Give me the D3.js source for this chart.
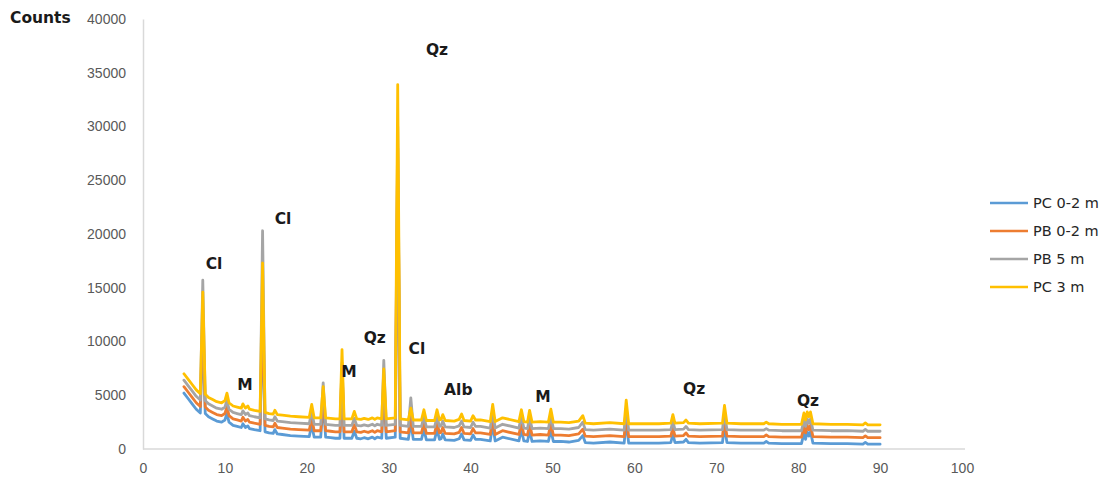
<!DOCTYPE html>
<html>
<head>
<meta charset="utf-8">
<script src="https://cdn.jsdelivr.net/npm/d3@7"></script>
<style>
  html, body { margin: 0; padding: 0; background: #fff; }
  svg { display: block; }
</style>
</head>
<body>
<script>
// Diffraction angle (2θ, degrees) shared by all four patterns
const twoTheta = [
  5.0, 5.5, 6.0, 6.5, 7.0, 7.3, 7.6, 8.0, 8.5, 9.0,
  9.6, 10.0, 10.25, 10.5, 11.0, 11.5, 12.0, 12.2, 12.5, 12.8,
  13.0, 13.6, 14.3, 14.6, 14.9, 15.4, 15.9, 16.1, 16.4, 17.0,
  18.0, 19.0, 20.3, 20.6, 20.9, 21.7, 22.0, 22.3, 22.9, 23.5,
  24.05, 24.3, 24.55, 25.5, 25.8, 26.1, 26.6, 27.0, 27.5, 28.0,
  28.3, 28.6, 29.15, 29.4, 29.7, 30.8, 31.1, 31.4, 32.4, 32.7,
  33.0, 34.0, 34.3, 34.6, 35.6, 35.9, 36.2, 36.4, 36.6, 36.9,
  38.0, 38.6, 38.9, 39.2, 40.0, 40.3, 40.6, 41.2, 42.4, 42.7,
  43.0, 43.9, 45.9, 46.2, 46.5, 46.95, 47.2, 47.5, 48.5, 49.5,
  49.8, 50.1, 51.0, 52.0, 53.2, 53.7, 54.0, 55.0, 57.0, 58.75,
  59.0, 59.3, 61.0, 63.0, 64.45, 64.7, 64.95, 66.0, 66.3, 66.6,
  68.0, 70.75, 71.0, 71.3, 73.0, 75.8, 76.1, 76.4, 78.0, 80.4,
  80.7, 80.9, 81.1, 81.3, 81.5, 81.8, 84.0, 86.0, 87.9, 88.2,
  88.5, 90.0
];

// Counts, PC 0-2 m
const pc02 = [
  5200, 4700, 4200, 3700, 3350, 11000, 3300, 3000, 2800, 2600,
  2500, 2700, 3300, 2500, 2200, 2100, 2000, 2350, 2000, 2150,
  1900, 1800, 1700, 12500, 1600, 1500, 1450, 1800, 1400, 1350,
  1250, 1200, 1150, 2250, 1100, 1100, 4300, 1100, 1050, 1000,
  1000, 6800, 1000, 1000, 1650, 1000, 950, 1050, 950, 1100,
  950, 1100, 1000, 5800, 1000, 1100, 25000, 1000, 900, 2500,
  900, 900, 1800, 850, 850, 1800, 900, 950, 1400, 850,
  800, 950, 1400, 850, 800, 1300, 900, 900, 750, 2250,
  750, 1100, 750, 1800, 750, 700, 1750, 700, 750, 700,
  1800, 700, 700, 650, 800, 1250, 600, 550, 650, 550,
  2600, 550, 550, 550, 600, 1400, 600, 650, 900, 600,
  550, 600, 2100, 600, 550, 550, 700, 550, 500, 500,
  1450, 900, 1600, 1200, 1600, 550, 500, 500, 450, 620,
  450, 450
];

// Counts, PB 0-2 m
const pb02 = [
  5800, 5300, 4800, 4300, 3950, 12500, 3900, 3600, 3400, 3200,
  3100, 3300, 3950, 3100, 2800, 2700, 2600, 2950, 2600, 2750,
  2500, 2400, 2300, 14000, 2200, 2100, 2050, 2400, 2000, 1950,
  1850, 1800, 1750, 2900, 1700, 1700, 5000, 1700, 1650, 1600,
  1600, 7500, 1600, 1600, 2250, 1600, 1550, 1650, 1550, 1700,
  1550, 1700, 1600, 6500, 1600, 1700, 28000, 1600, 1500, 3100,
  1500, 1500, 2400, 1450, 1450, 2400, 1500, 1550, 2000, 1450,
  1400, 1550, 2000, 1450, 1400, 1900, 1500, 1500, 1350, 2850,
  1350, 1700, 1350, 2400, 1350, 1300, 2350, 1300, 1350, 1300,
  2400, 1300, 1300, 1250, 1400, 1850, 1200, 1150, 1250, 1150,
  3200, 1150, 1150, 1150, 1200, 2000, 1200, 1250, 1500, 1200,
  1150, 1200, 2700, 1200, 1150, 1150, 1300, 1150, 1100, 1100,
  2050, 1500, 2200, 1800, 2200, 1150, 1100, 1100, 1050, 1220,
  1050, 1050
];

// Counts, PB 5 m
const pb5 = [
  6400, 5900, 5400, 4900, 4550, 15700, 4500, 4200, 4000, 3800,
  3700, 3900, 4550, 3700, 3400, 3300, 3200, 3550, 3200, 3350,
  3100, 3000, 2900, 20300, 2800, 2700, 2650, 3000, 2600, 2550,
  2450, 2400, 2350, 3500, 2300, 2300, 6150, 2300, 2250, 2200,
  2200, 8000, 2200, 2200, 2850, 2200, 2150, 2250, 2150, 2300,
  2150, 2300, 2200, 8250, 2200, 2300, 30000, 2200, 2100, 4750,
  2100, 2100, 3000, 2050, 2050, 3000, 2100, 2150, 2600, 2050,
  2000, 2150, 2600, 2050, 2000, 2500, 2100, 2100, 1950, 3450,
  1950, 2300, 1950, 3050, 1950, 1900, 2950, 1900, 1950, 1900,
  3050, 1900, 1900, 1850, 2000, 2500, 1800, 1750, 1850, 1750,
  3800, 1750, 1750, 1750, 1800, 2600, 1800, 1850, 2100, 1800,
  1750, 1800, 3350, 1800, 1750, 1750, 1900, 1750, 1700, 1700,
  2700, 2100, 2800, 2400, 2800, 1750, 1700, 1700, 1650, 1820,
  1650, 1650
];

// Counts, PC 3 m
const pc3 = [
  7000, 6500, 6000, 5500, 5150, 14600, 5100, 4800, 4600, 4400,
  4300, 4500, 5200, 4300, 4000, 3900, 3800, 4200, 3800, 4000,
  3700, 3600, 3500, 17300, 3400, 3300, 3250, 3600, 3200, 3150,
  3050, 3000, 2950, 4150, 2900, 2900, 5800, 2900, 2850, 2800,
  2800, 9250, 2800, 2800, 3500, 2800, 2750, 2850, 2750, 2900,
  2750, 2900, 2800, 7450, 2800, 2900, 33900, 2800, 2700, 3800,
  2700, 2700, 3650, 2650, 2650, 3650, 2700, 2750, 3200, 2650,
  2600, 2750, 3250, 2650, 2600, 3100, 2700, 2700, 2550, 4150,
  2550, 2900, 2550, 3650, 2550, 2500, 3600, 2500, 2550, 2500,
  3700, 2500, 2500, 2450, 2600, 3100, 2400, 2350, 2450, 2350,
  4550, 2350, 2350, 2350, 2400, 3200, 2400, 2450, 2700, 2400,
  2350, 2400, 4050, 2400, 2350, 2350, 2500, 2350, 2300, 2300,
  3350, 2700, 3450, 3000, 3450, 2350, 2300, 2300, 2250, 2420,
  2250, 2250
];

const seriesNames = ["PC 0-2 m", "PB 0-2 m", "PB 5 m", "PC 3 m"];
const seriesColors = ["#5B9BD5", "#ED7D31", "#A5A5A5", "#FFC000"];
const seriesValues = [pc02, pb02, pb5, pc3];

const xTicks = [0, 10, 20, 30, 40, 50, 60, 70, 80, 90, 100];
const yTicks = [0, 5000, 10000, 15000, 20000, 25000, 30000, 35000, 40000];

// Phase labels: name, 2θ, counts
const phaseLabels = [
  ["Cl", 8.67, 17250],
  ["Cl", 17.1, 21450],
  ["M", 12.45, 6050],
  ["M", 25.15, 7250],
  ["Qz", 28.3, 10350],
  ["Cl", 33.45, 9400],
  ["Qz", 35.9, 37200],
  ["Alb", 38.5, 5500],
  ["M", 48.85, 4850],
  ["Qz", 67.3, 5600],
  ["Qz", 81.2, 4550]
];

const W = 1104, H = 477;
const svg = d3.select("body").append("svg")
  .attr("width", W).attr("height", H)
  .style("font-family", "'DejaVu Sans', Verdana, sans-serif");

const x = d3.scaleLinear().domain([0, 100]).range([143, 962]);
const y = d3.scaleLinear().domain([0, 40000]).range([449, 19]);

// y axis
const yAxis = svg.append("g")
  .attr("transform", `translate(${x(0)},0)`)
  .call(d3.axisLeft(y).tickValues(yTicks).tickFormat(d3.format("d"))
    .tickSize(0).tickSizeOuter(0).tickPadding(17));
yAxis.select(".domain").attr("stroke", "#d9d9d9").attr("stroke-width", 1.5);
yAxis.selectAll("text").attr("fill", "#595959").style("font-size", "14px");

// x axis
const xAxis = svg.append("g")
  .attr("transform", `translate(0,${y(0)})`)
  .call(d3.axisBottom(x).tickValues(xTicks).tickFormat(d3.format("d"))
    .tickSize(0).tickSizeOuter(0).tickPadding(14));
xAxis.select(".domain").attr("stroke", "#d9d9d9").attr("stroke-width", 1.5)
  .attr("d", `M${x(0)},0H${x(100) + 3}`);
xAxis.selectAll("text").attr("fill", "#595959").style("font-size", "14px");

// axis title
svg.append("text")
  .attr("x", 10).attr("y", 23)
  .attr("fill", "#1a1a1a")
  .style("font-size", "15.5px").style("font-weight", "bold")
  .text("Counts");

// diffraction patterns
const line = d3.line()
  .x((d, i) => x(twoTheta[i]))
  .y(d => y(d));

svg.append("g").selectAll("path")
  .data(seriesValues)
  .join("path")
  .attr("d", d => line(d))
  .attr("fill", "none")
  .attr("stroke", (d, i) => seriesColors[i])
  .attr("stroke-width", 2.8)
  .attr("stroke-linejoin", "round")
  .attr("stroke-linecap", "round");

// phase labels
svg.append("g").selectAll("text")
  .data(phaseLabels)
  .join("text")
  .attr("x", d => x(d[1]))
  .attr("y", d => y(d[2]))
  .attr("dy", "0.36em")
  .attr("text-anchor", "middle")
  .attr("fill", "#1a1a1a")
  .style("font-size", "15.5px").style("font-weight", "bold")
  .text(d => d[0]);

// legend
const legend = svg.append("g").selectAll("g")
  .data(seriesNames)
  .join("g")
  .attr("transform", (d, i) => `translate(990,${203 + i * 28})`);
legend.append("line")
  .attr("x1", 0).attr("x2", 38).attr("y1", 0).attr("y2", 0)
  .attr("stroke", (d, i) => seriesColors[i])
  .attr("stroke-width", 2.6);
legend.append("text")
  .attr("x", 43).attr("dy", "0.36em")
  .attr("fill", "#262626")
  .style("font-size", "14.5px")
  .text(d => d);
</script>
</body>
</html>
